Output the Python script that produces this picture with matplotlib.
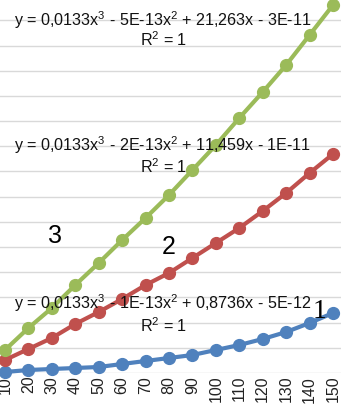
import matplotlib
matplotlib.use("Agg")
import matplotlib.pyplot as plt

x = [10, 20, 30, 40, 50, 60, 70, 80, 90, 100, 110, 120, 130, 140, 150]
s1 = [79, 238, 318, 397, 476, 715, 953, 1191, 1429, 1826, 2223, 2700, 3255, 3970, 4764]
s2 = [1032, 1906, 2779, 3891, 4843, 5876, 6987, 7940, 9131, 10322, 11513, 12863, 14292, 15880, 17389]
s3 = [1826, 3573, 5161, 6987, 8734, 10560, 12307, 14133, 16118, 18103, 20247, 22311, 24455, 26837, 29219]

eq1 = "y = 0,0133x$^3$ - 1E-13x$^2$ + 0,8736x - 5E-12"
eq2 = "y = 0,0133x$^3$ - 2E-13x$^2$ + 11,459x - 1E-11"
eq3 = "y = 0,0133x$^3$ - 5E-13x$^2$ + 21,263x - 3E-11"

plt.rcParams['font.family'] = ['Liberation Sans', 'DejaVu Sans']
plt.rcParams['mathtext.fontset'] = 'custom'
plt.rcParams['mathtext.rm'] = 'Liberation Sans'

fig = plt.figure(figsize=(3.41, 4.12), dpi=100)
ax = fig.add_axes([0, 39/412, 1, 373/412])

for s, c in [(s1, "#4F81BD"), (s2, "#C0504D"), (s3, "#9BBB59")]:
    ax.plot(x, s, color=c, lw=3, marker="o", ms=8.5, clip_on=False, zorder=3)

ax.set_xlim(7.87, 153.4)
ax.set_ylim(0, 29616)
ax.set_yticks(range(0, 30000, 2000))
ax.yaxis.grid(True, color="#D9D9D9", lw=1)
ax.set_axisbelow(True)
for sp in ax.spines.values():
    sp.set_visible(False)
ax.tick_params(axis="y", left=False, labelleft=False)
ax.set_xticks(x)
ax.set_xticklabels([str(v) for v in x], rotation=90, fontsize=11.5, color="#222222")
ax.tick_params(axis="x", length=0, pad=2)

def px(xp, yp):
    return (xp / 341, 1 - yp / 412)

tk = dict(transform=fig.transFigure, fontsize=11.6, color="#111111", va="center")
fig.text(*px(14, 20), eq3, ha="left", **tk)
fig.text(*px(164, 40), "R$^2$ = 1", ha="center", **tk)
fig.text(*px(14, 145), eq2, ha="left", **tk)
fig.text(*px(164, 167), "R$^2$ = 1", ha="center", **tk)
fig.text(*px(14, 303), eq1, ha="left", **tk)
fig.text(*px(164, 326), "R$^2$ = 1", ha="center", **tk)

fig.text(*px(55, 236), "3", transform=fig.transFigure, fontsize=18, ha="center", va="center")
fig.text(*px(169, 247), "2", transform=fig.transFigure, fontsize=18, ha="center", va="center")
fig.text(*px(320, 312), "1", transform=fig.transFigure, fontsize=20, ha="center", va="center",
         family="Liberation Serif")

fig.savefig("out.png", dpi=100)
